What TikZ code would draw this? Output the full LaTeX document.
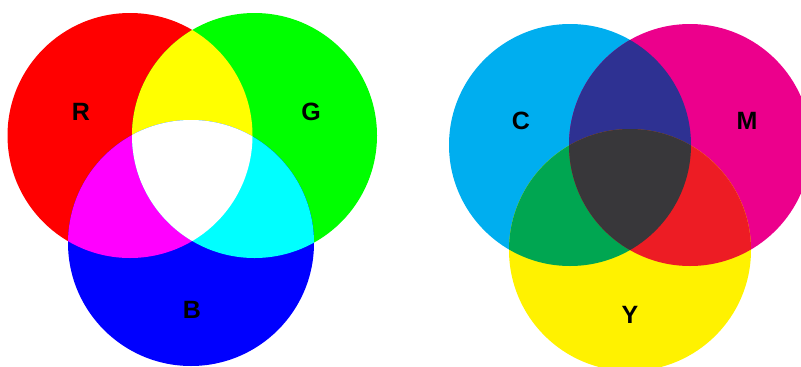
\documentclass[tikz,border=0pt]{standalone}
\usepackage{xcolor}
\usepackage{fontspec}
\setmainfont{Liberation Sans}
\usetikzlibrary{positioning}

\definecolor{rgbR}{RGB}{255,0,0}
\definecolor{rgbG}{RGB}{0,255,0}
\definecolor{rgbB}{RGB}{0,0,255}
\definecolor{rgbY}{RGB}{255,255,0}
\definecolor{rgbM}{RGB}{255,0,255}
\definecolor{rgbC}{RGB}{0,255,255}
\definecolor{cmyC}{HTML}{00AEEF}
\definecolor{cmyM}{HTML}{EC008C}
\definecolor{cmyY}{HTML}{FFF200}
\definecolor{cmyCM}{HTML}{2E3192}
\definecolor{cmyCY}{HTML}{00A651}
\definecolor{cmyMY}{HTML}{ED1C24}
\definecolor{cmyK}{HTML}{38373A}

\begin{document}
\begin{tikzpicture}[
    x=1pt, y=-1pt,
    letter/.style={font=\fontsize{25}{25}\selectfont\bfseries, text=black, inner sep=0pt}
]
\useasboundingbox (0,0) rectangle (801,367);
\clip (0,0) rectangle (801,367);

% additive
\coordinate (cR) at (130,135.5);
\coordinate (cG) at (254.5,135.5);
\coordinate (cB) at (191,243);

\fill[rgbR] (cR) circle (122.5);
\fill[rgbG] (cG) circle (122.5);
\fill[rgbB] (cB) circle (123);
\begin{scope}
    \clip (cR) circle (122.5);
    \fill[rgbY] (cG) circle (122.5);
    \fill[rgbM] (cB) circle (123);
\end{scope}
\begin{scope}
    \clip (cG) circle (122.5);
    \fill[rgbC] (cB) circle (123);
    \clip (cR) circle (122.5);
    \fill[white] (cB) circle (123);
\end{scope}

\node[letter] (labR) at (81,112) {R};
\node[letter] (labG) at (311,112) {G};
\node[letter] (labB) at (192,310) {B};

% subtractive
\coordinate (cC) at (570,145);
\coordinate (cM) at (690,145);
\coordinate (cY) at (630,250);

\fill[cmyC] (cC) circle (121);
\fill[cmyM] (cM) circle (121);
\fill[cmyY] (cY) circle (121);
\begin{scope}
    \clip (cC) circle (121);
    \fill[cmyCM] (cM) circle (121);
    \fill[cmyCY] (cY) circle (121);
\end{scope}
\begin{scope}
    \clip (cM) circle (121);
    \fill[cmyMY] (cY) circle (121);
    \clip (cC) circle (121);
    \fill[cmyK] (cY) circle (121);
\end{scope}

\node[letter] (labC) at (521,121) {C};
\node[letter] (labM) at (747,121) {M};
\node[letter] (labY) at (630,315) {Y};
\end{tikzpicture}
\end{document}
